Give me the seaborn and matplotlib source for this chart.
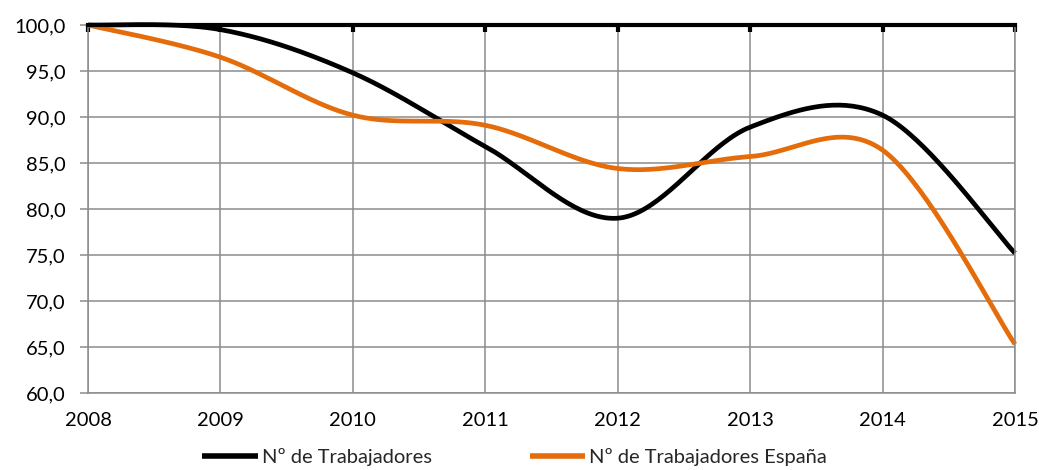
import numpy as np
import pandas as pd
import matplotlib
matplotlib.use("Agg")
import matplotlib.pyplot as plt
import seaborn as sns
from matplotlib.ticker import FuncFormatter

years = [2008, 2009, 2010, 2011, 2012, 2013, 2014, 2015]
trabajadores = [100.0, 99.5, 94.8, 86.8, 79.0, 88.9, 90.2, 75.2]
trabajadores_espana = [100.0, 96.5, 90.2, 89.1, 84.4, 85.7, 86.4, 65.3]
series_names = ["Nº de Trabajadores", "Nº de Trabajadores España"]
y_ticks = [60, 65, 70, 75, 80, 85, 90, 95, 100]


def smooth(xs, ys, n=40):
    """Excel-style smoothed line (Catmull-Rom Bezier through the points)."""
    xs = np.asarray(xs, float)
    ys = np.asarray(ys, float)
    P = np.column_stack([xs, ys])
    out = []
    for i in range(len(P) - 1):
        p0 = P[i - 1] if i > 0 else P[i]
        p1 = P[i]
        p2 = P[i + 1]
        p3 = P[i + 2] if i + 2 < len(P) else P[i + 1]
        c1 = p1 + (p2 - p0) / 6.0
        c2 = p2 - (p3 - p1) / 6.0
        t = np.linspace(0, 1, n, endpoint=(i == len(P) - 2))[:, None]
        seg = ((1 - t) ** 3) * p1 + 3 * ((1 - t) ** 2) * t * c1 + 3 * (1 - t) * t ** 2 * c2 + t ** 3 * p2
        out.append(seg)
    out = np.vstack(out)
    return out[:, 0], out[:, 1]


sns.set_theme(style="white")
plt.rcParams["font.family"] = ["Lato", "DejaVu Sans"]

FS = 14.5
fig = plt.figure(figsize=(10.39, 4.70), dpi=100)
ax = fig.add_axes([88 / 1039, 1 - 393 / 470, (1015 - 88) / 1039, (393 - 25) / 470])

colors = ["#000000", "#E46C0A"]
frames = []
for name, vals in zip(series_names, [trabajadores, trabajadores_espana]):
    sx, sy = smooth(years, vals)
    frames.append(pd.DataFrame({"year": sx, "value": sy, "serie": name}))
df = pd.concat(frames, ignore_index=True)

sns.lineplot(data=df, x="year", y="value", hue="serie", palette=colors, sort=False,
             linewidth=3.4, ax=ax, legend=True, estimator=None, units="serie")
for ln in ax.get_lines():
    ln.set_clip_on(False)
    ln.set_solid_capstyle("butt")

ax.set_xlim(2008, 2015)
ax.set_ylim(60, 100)
ax.set_yticks(y_ticks)
ax.set_xticks(years)
ax.yaxis.set_major_formatter(FuncFormatter(lambda v, p: f"{v:.1f}".replace(".", ",")))
ax.xaxis.set_major_formatter(FuncFormatter(lambda v, p: f"{int(v)}"))
ax.set_xlabel("")
ax.set_ylabel("")

grid_col = "#8C8C8C"
ax.grid(True, color=grid_col, linewidth=1.1)
ax.set_axisbelow(True)
for s in ["left", "bottom", "right"]:
    ax.spines[s].set_color(grid_col)
    ax.spines[s].set_linewidth(1.1)
ax.spines["top"].set_color("black")
ax.spines["top"].set_linewidth(3.0)
ax.spines["top"].set_zorder(5)

ax.tick_params(axis="x", which="major", top=True, bottom=False, direction="in",
               length=5, width=3, color="black", labelbottom=True, labeltop=False,
               labelsize=FS, pad=14, labelcolor="black")
ax.tick_params(axis="y", which="major", left=True, direction="out", length=5.5,
               width=1.1, color=grid_col, labelsize=FS, pad=10.5, labelcolor="black")

handles, labels = ax.get_legend_handles_labels()
ax.get_legend().remove()

# column spacing so that the second handle starts at x=530 px
fig.canvas.draw()
renderer = fig.canvas.get_renderer()
t = fig.text(0, 0, labels[0], fontsize=FS)
w = t.get_window_extent(renderer).width
t.remove()
em = FS * 100 / 72
col_sp = (530 - (262 + w)) / em

leg = fig.legend(handles, labels, loc="lower left", bbox_to_anchor=(184 / 1039, -0.03),
                 ncol=2, frameon=False, fontsize=FS, handlelength=2.75,
                 handletextpad=0.2, columnspacing=col_sp)
for h in leg.get_lines():
    h.set_linewidth(4)

fig.savefig("out.png", dpi=100)
